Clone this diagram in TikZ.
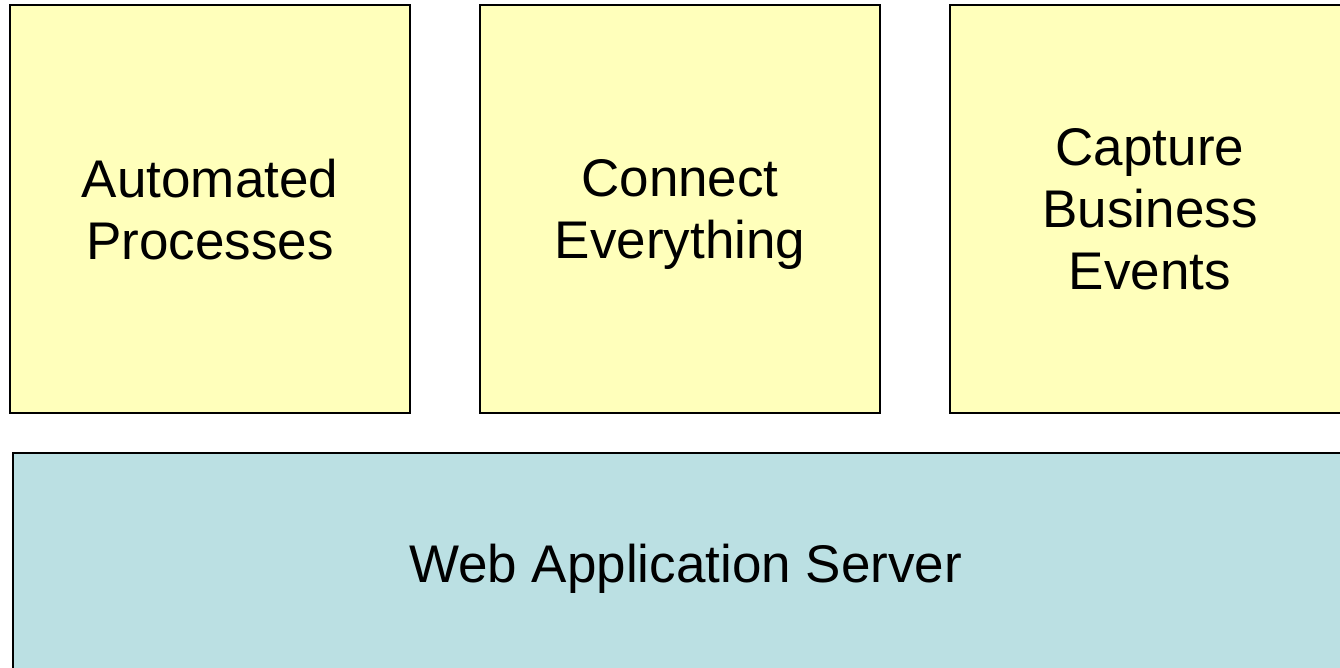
\documentclass[tikz,border=0pt]{standalone}
\usepackage{fontspec}
\setmainfont{Liberation Sans}
\usetikzlibrary{positioning}
\definecolor{noteyellow}{HTML}{FFFFBB}
\definecolor{serverblue}{HTML}{BBE0E3}
\begin{document}
\begin{tikzpicture}[x=0.5pt, y=-0.5pt, font=\fontsize{26.5}{31}\selectfont]
     \tikzstyle{layer}=[draw=black, line width=1pt, align=center, inner sep=0pt, text depth=0pt]
     \tikzstyle{topbox}=[layer, fill=noteyellow, minimum width=200pt, minimum height=204pt]
     \tikzstyle{basebox}=[layer, fill=serverblue, minimum width=672.5pt, minimum height=110pt]
     \clip (0,0) rectangle (1340,668);
     % capabilities
     \node[topbox] (automated) at (210,209) {Automated\\Processes};
     \node[topbox, right=34pt of automated] (connect) {Connect\\Everything};
     \node[topbox, right=34pt of connect] (capture) {Capture\\Business\\Events};
     % platform
     \node[basebox] (server) at (685.5,563) {Web Application Server};
\end{tikzpicture}
\end{document}
